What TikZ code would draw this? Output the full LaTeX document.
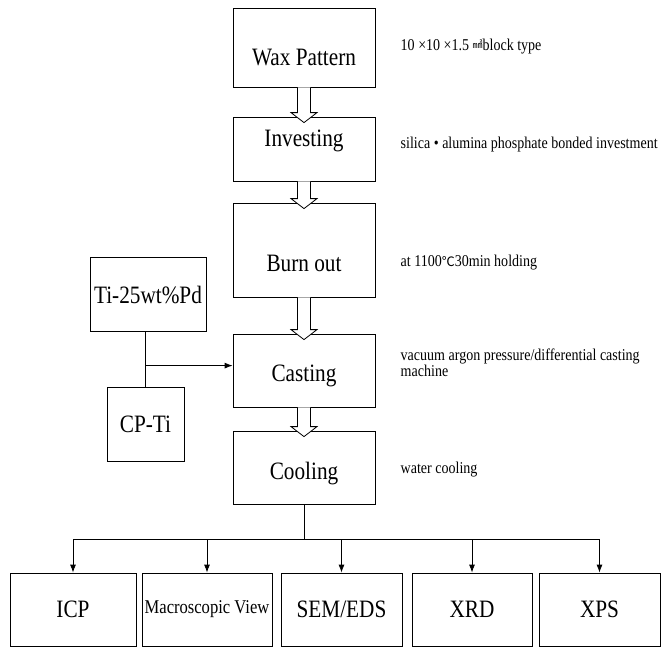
\documentclass[tikz,border=0pt]{standalone}
\usepackage{fontspec}
\setmainfont[FakeStretch=0.85]{Liberation Serif}
\newfontfamily\cjk{Noto Sans CJK SC}
\usetikzlibrary{calc,arrows.meta}

% hollow block arrow from the bottom of one box into the top of the next
\newcommand{\flowarrow}[2]{%
  \draw[fill=white] ($(#1.south)+(-6.5,0)$) -- ($(#2.north)+(-6.5,-4)$) -- ++(-6.5,0)
    -- ($(#2.north)+(0,6)$) -- ($(#2.north)+(13,-4)$) -- ++(-6.5,0) -- ($(#1.south)+(6.5,0)$);}

\begin{document}
\begin{tikzpicture}[x=1pt,y=-1pt,line width=0.8pt,
  boxtext/.style={font=\fontsize{25}{28}\selectfont},
  box/.style={draw,inner sep=0pt,boxtext},
  mainbox/.style={box,minimum width=142pt,minimum height=#1},
  testbox/.style={box,minimum height=73pt},
  note/.style={anchor=west,align=left,font=\fontsize{16.5}{16}\selectfont},
  tip/.style={-{Latex[length=8pt,width=6pt]}}]
  \useasboundingbox (0,0) rectangle (667,648);

  % process steps
  \node[mainbox=79pt,label={[boxtext,yshift=-10pt]center:Wax Pattern}] (wax) at (304,47.5) {};
  \node[mainbox=64pt,label={[boxtext,yshift=8pt]center:Investing}] (invest) at (304,149) {};
  \node[mainbox=94pt,label={[boxtext,yshift=-13pt]center:Burn out}] (burn) at (304,250) {};
  \node[mainbox=73pt,label={[boxtext,yshift=-5.5pt]center:Casting}] (cast) at (304,370.5) {};
  \node[mainbox=73pt,label={[boxtext,yshift=-6pt]center:Cooling}] (cool) at (304,467.5) {};

  \flowarrow{wax}{invest}
  \flowarrow{invest}{burn}
  \flowarrow{burn}{cast}
  \flowarrow{cast}{cool}

  % conditions
  \node[note] (n_wax) at (397,47) {10 ×10 ×1.5 \raisebox{2pt}{\cjk\fontsize{10}{10}\selectfont ㎟}block type};
  \node[note] (n_invest) at (397,145) {silica • alumina phosphate bonded investment};
  \node[note] (n_burn) at (397,263) {at 1100{\cjk\fontsize{13}{13}\selectfont ℃}30min holding};
  \node[note] (n_cast) at (397,363) {vacuum argon pressure/differential casting\\machine};
  \node[note] (n_cool) at (397,470) {water cooling};

  % alloys
  \node[box,minimum width=116pt,minimum height=74pt] (tipd) at (148,294.5) {Ti-25wt\%Pd};
  \node[box,minimum width=77pt,minimum height=74pt] (cpti) at (145.5,424) {CP-Ti};
  \draw (tipd.south -| cpti.north) -- (cpti.north);
  \coordinate (join) at ($(cpti.north)+(0,-21)$);
  \draw[tip] (join) -- (join -| cast.west);

  % analyses
  \node[testbox,minimum width=126pt] (icp) at (73,609.5) {ICP};
  \node[testbox,minimum width=130pt,font=\fontsize{19.5}{22}\selectfont] (macro) at (207,609.5) {Macroscopic View};
  \node[testbox,minimum width=121pt] (sem) at (341.5,609.5) {SEM/EDS};
  \node[testbox,minimum width=120pt] (xrd) at (472,609.5) {XRD};
  \node[testbox,minimum width=121pt] (xps) at (599.5,609.5) {XPS};

  \coordinate (bus) at ($(cool.south)+(0,35)$);
  \draw (cool.south) -- (bus);
  \draw (icp.north |- bus) -- (xps.north |- bus);
  \foreach \n in {icp,macro,sem,xrd,xps}
    \draw[tip] (\n.north |- bus) -- (\n.north);
\end{tikzpicture}
\end{document}
